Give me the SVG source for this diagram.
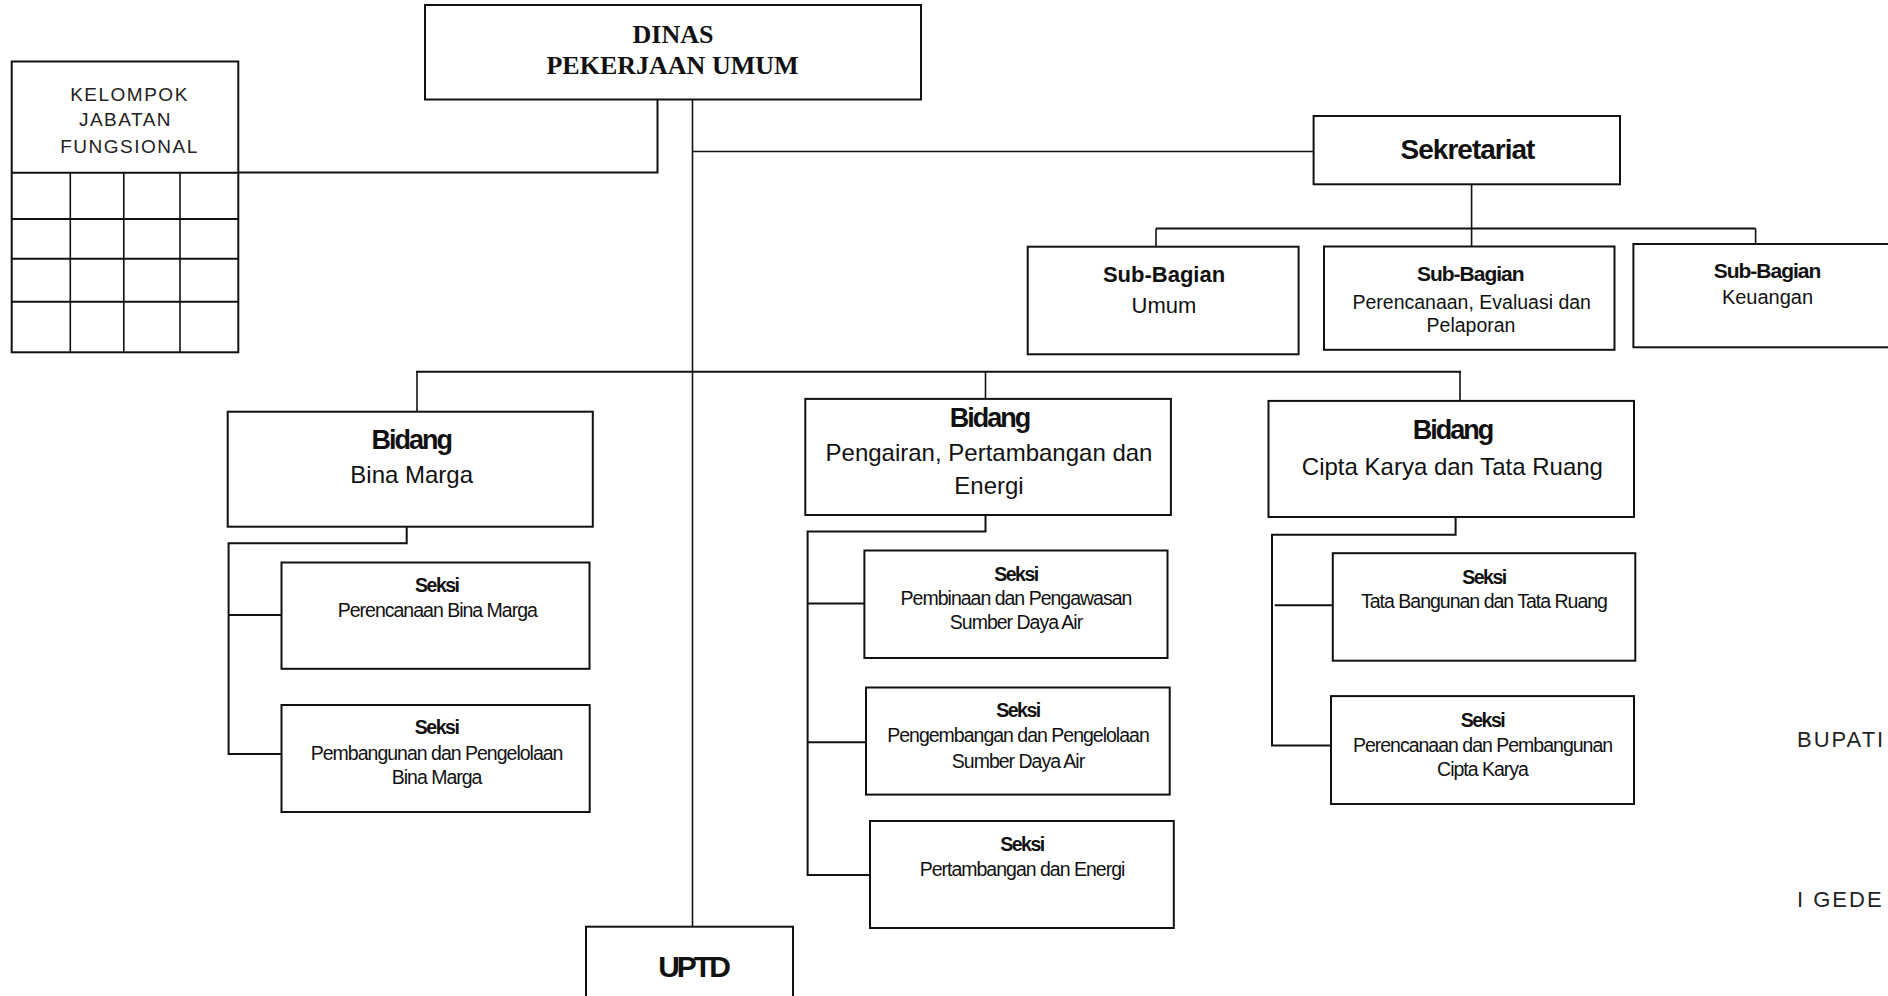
<svg xmlns="http://www.w3.org/2000/svg" width="1888" height="996" viewBox="0 0 1888 996">
<style>
.box{fill:#fff;stroke:#111;stroke-width:2}
.ln{fill:none;stroke:#111;stroke-width:2}
.thin{fill:none;stroke:#111;stroke-width:1.6}
text{font-family:"Liberation Sans",Arial,sans-serif;fill:#111;text-anchor:middle}
.serif{font-family:"Liberation Serif","Times New Roman",serif;font-weight:bold;font-size:26px}
.spaced{font-size:19px;letter-spacing:1.5px;fill:#222}
.sign{font-size:22px;letter-spacing:2px;fill:#222;text-anchor:start}
.bb{font-weight:bold;font-size:27px;letter-spacing:-2px}
.rr{font-size:24px}
.sek{font-weight:bold;font-size:28px;letter-spacing:-1px}
.uptd{font-weight:bold;font-size:30px;letter-spacing:-3px}
.sbb{font-weight:bold;font-size:21px;letter-spacing:-1px}
.sbr{font-size:19.5px}
.sxb{font-weight:bold;font-size:19.5px;letter-spacing:-1.5px}
.sxr{font-size:19.5px;letter-spacing:-1px}
</style>

<g id="connectors">
  <polyline class="ln" points="657.5,99.5 657.5,172.5 238,172.5"/>
  <line class="thin" x1="692.5" y1="99.5" x2="692.5" y2="927"/>
  <line class="thin" x1="692.5" y1="151.5" x2="1314" y2="151.5"/>
  <line class="thin" x1="1471.6" y1="184.3" x2="1471.6" y2="246.5"/>
  <line class="ln" x1="1156" y1="228.6" x2="1755.6" y2="228.6"/>
  <line class="thin" x1="1156" y1="228.6" x2="1156" y2="246.7"/>
  <line class="thin" x1="1755.6" y1="228.6" x2="1755.6" y2="244"/>
  <line class="ln" x1="416" y1="371.7" x2="1461" y2="371.7"/>
  <line class="thin" x1="417" y1="371.7" x2="417" y2="411.7"/>
  <line class="thin" x1="985.5" y1="371.7" x2="985.5" y2="398.9"/>
  <line class="thin" x1="1460" y1="371.7" x2="1460" y2="400.9"/>
  <polyline class="ln" points="406.7,526.7 406.7,543.3 228.6,543.3 228.6,754 284,754"/>
  <line class="ln" x1="228.6" y1="615" x2="284" y2="615"/>
  <polyline class="ln" points="985.5,515 985.5,531.6 807.6,531.6 807.6,875 870,875"/>
  <line class="ln" x1="807.6" y1="603.6" x2="864.4" y2="603.6"/>
  <line class="ln" x1="807.6" y1="742.2" x2="866" y2="742.2"/>
  <polyline class="ln" points="1455.6,517 1455.6,534.7 1272,534.7 1272,745.4 1331,745.4"/>
  <line class="ln" x1="1274.8" y1="605.2" x2="1332.8" y2="605.2"/>
</g>

<g id="dinas">
  <rect class="box" x="425" y="5" width="496" height="94.5"/>
  <text class="serif" x="673" y="43.3">DINAS</text>
  <text class="serif" x="672.5" y="74">PEKERJAAN UMUM</text>
</g>

<g id="kelompok">
  <rect class="box" x="11.7" y="61.5" width="226.6" height="290.8"/>
  <line class="ln" x1="11.7" y1="172.7" x2="238.3" y2="172.7"/>
  <line class="ln" x1="11.7" y1="219" x2="238.3" y2="219"/>
  <line class="ln" x1="11.7" y1="258.7" x2="238.3" y2="258.7"/>
  <line class="ln" x1="11.7" y1="301.7" x2="238.3" y2="301.7"/>
  <line class="thin" x1="70.3" y1="172.7" x2="70.3" y2="352.3"/>
  <line class="thin" x1="123.8" y1="172.7" x2="123.8" y2="352.3"/>
  <line class="thin" x1="180" y1="172.7" x2="180" y2="352.3"/>
  <text class="spaced" x="129.5" y="100.7">KELOMPOK</text>
  <text class="spaced" x="125.5" y="126">JABATAN</text>
  <text class="spaced" x="129.5" y="152.7">FUNGSIONAL</text>
</g>

<g id="sekretariat">
  <rect class="box" x="1313.6" y="116" width="306.4" height="68.3"/>
  <text class="sek" x="1467.5" y="159">Sekretariat</text>
</g>

<g id="subbag-umum">
  <rect class="box" x="1027.7" y="246.7" width="270.9" height="107.6"/>
  <text class="sbb" style="font-size:22px;letter-spacing:0" x="1164" y="281.7">Sub-Bagian</text>
  <text class="sbr" style="font-size:22px" x="1164" y="313.3">Umum</text>
</g>

<g id="subbag-perencanaan">
  <rect class="box" x="1324" y="246.5" width="290.5" height="103.3"/>
  <text class="sbb" x="1470.3" y="280.7">Sub-Bagian</text>
  <text class="sbr" x="1471.7" y="309.3">Perencanaan, Evaluasi dan</text>
  <text class="sbr" x="1471" y="331.7">Pelaporan</text>
</g>

<g id="subbag-keuangan">
  <rect class="box" x="1633.4" y="244" width="270" height="103.3"/>
  <text class="sbb" x="1767" y="278.3">Sub-Bagian</text>
  <text class="sbr" style="font-size:20px" x="1767.5" y="304">Keuangan</text>
</g>

<g id="bidang-bina-marga">
  <rect class="box" x="227.7" y="411.7" width="365.1" height="115"/>
  <text class="bb" x="411.2" y="448.7">Bidang</text>
  <text class="rr" x="411.7" y="482.7">Bina Marga</text>
</g>

<g id="bidang-pengairan">
  <rect class="box" x="805.3" y="398.9" width="365.6" height="116.1"/>
  <text class="bb" x="989.5" y="427.2">Bidang</text>
  <text class="rr" x="989" y="460.7">Pengairan, Pertambangan dan</text>
  <text class="rr" x="989" y="493.5">Energi</text>
</g>

<g id="bidang-cipta-karya">
  <rect class="box" x="1268.5" y="400.9" width="365.5" height="116.1"/>
  <text class="bb" x="1452.4" y="439">Bidang</text>
  <text class="rr" x="1452.4" y="474.5">Cipta Karya dan Tata Ruang</text>
</g>

<g id="seksi-perencanaan-bina-marga">
  <rect class="box" x="281.5" y="562.5" width="308" height="106.3"/>
  <text class="sxb" x="436.8" y="592.3">Seksi</text>
  <text class="sxr" x="437.3" y="617.3">Perencanaan Bina Marga</text>
</g>

<g id="seksi-pembangunan-bina-marga">
  <rect class="box" x="281.5" y="705" width="308.2" height="107"/>
  <text class="sxb" x="436.6" y="734">Seksi</text>
  <text class="sxr" x="436.6" y="760">Pembangunan dan Pengelolaan</text>
  <text class="sxr" x="436.6" y="784">Bina Marga</text>
</g>

<g id="seksi-pembinaan-sda">
  <rect class="box" x="864.4" y="550.5" width="303.1" height="107.5"/>
  <text class="sxb" x="1016" y="580.8">Seksi</text>
  <text class="sxr" x="1016" y="605.2">Pembinaan dan Pengawasan</text>
  <text class="sxr" x="1016" y="628.8">Sumber Daya Air</text>
</g>

<g id="seksi-pengembangan-sda">
  <rect class="box" x="866" y="687.5" width="303.7" height="107.1"/>
  <text class="sxb" x="1018" y="716.6">Seksi</text>
  <text class="sxr" x="1018" y="742.2">Pengembangan dan Pengelolaan</text>
  <text class="sxr" x="1018" y="767.8">Sumber Daya Air</text>
</g>

<g id="seksi-pertambangan">
  <rect class="box" x="870" y="821" width="303.8" height="107"/>
  <text class="sxb" x="1022" y="850.5">Seksi</text>
  <text class="sxr" x="1022" y="876">Pertambangan dan Energi</text>
</g>

<g id="seksi-tata-bangunan">
  <rect class="box" x="1332.8" y="553.2" width="302.5" height="107.5"/>
  <text class="sxb" x="1484" y="584">Seksi</text>
  <text class="sxr" x="1484" y="608.3">Tata Bangunan dan Tata Ruang</text>
</g>

<g id="seksi-perencanaan-cipta-karya">
  <rect class="box" x="1331" y="696.1" width="303" height="107.9"/>
  <text class="sxb" x="1482.5" y="726.5">Seksi</text>
  <text class="sxr" x="1482.5" y="752">Perencanaan dan Pembangunan</text>
  <text class="sxr" x="1482.5" y="775.7">Cipta Karya</text>
</g>

<g id="uptd">
  <rect class="box" x="586" y="926.7" width="207" height="80"/>
  <text class="uptd" x="693" y="976.7">UPTD</text>
</g>

<g id="signature">
  <text class="sign" x="1797" y="746.7">BUPATI</text>
  <text class="sign" x="1797" y="906.7">I GEDE</text>
</g>
</svg>
